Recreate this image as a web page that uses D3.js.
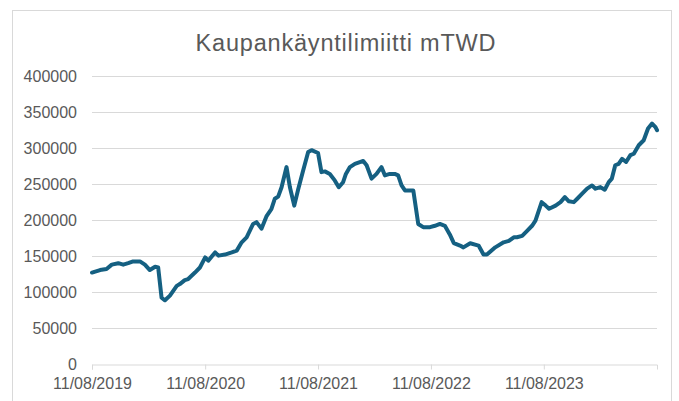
<!DOCTYPE html>
<html>
<head>
<meta charset="utf-8">
<script src="https://cdn.jsdelivr.net/npm/d3@7"></script>
<style>
  body { margin: 0; background: #fff; }
  text { font-family: "Liberation Sans", Arial, sans-serif; }
</style>
</head>
<body>
<div id="chart"></div>
<script>
// values
const dates = [
  "2019-08-11", "2019-09-06", "2019-09-27", "2019-10-14", "2019-11-04", "2019-11-20",
  "2019-12-06", "2019-12-22", "2020-01-13", "2020-01-29", "2020-02-14", "2020-03-02",
  "2020-03-12", "2020-03-23", "2020-04-03", "2020-04-19", "2020-05-11", "2020-05-21",
  "2020-06-06", "2020-06-17", "2020-07-09", "2020-07-25", "2020-08-11", "2020-08-21",
  "2020-09-12", "2020-09-23", "2020-10-14", "2020-11-05", "2020-11-21", "2020-12-07",
  "2020-12-23", "2021-01-13", "2021-01-24", "2021-02-09", "2021-02-25", "2021-03-13",
  "2021-03-24", "2021-04-04", "2021-04-15", "2021-05-01", "2021-05-12", "2021-05-26",
  "2021-06-08", "2021-06-24", "2021-07-10", "2021-07-21", "2021-08-11", "2021-08-22",
  "2021-09-02", "2021-09-18", "2021-10-04", "2021-10-17", "2021-10-31", "2021-11-09",
  "2021-11-22", "2021-12-08", "2021-12-24", "2022-01-04", "2022-01-15", "2022-01-31",
  "2022-02-16", "2022-03-04", "2022-03-15", "2022-03-31", "2022-04-16", "2022-04-27",
  "2022-05-08", "2022-05-19", "2022-06-15", "2022-07-01", "2022-07-17", "2022-08-08",
  "2022-08-24", "2022-09-09", "2022-09-25", "2022-10-11", "2022-10-24", "2022-11-13",
  "2022-11-24", "2022-12-16", "2023-01-12", "2023-01-28", "2023-02-08", "2023-03-07",
  "2023-04-03", "2023-04-20", "2023-05-06", "2023-05-16", "2023-06-02", "2023-06-18",
  "2023-07-04", "2023-07-15", "2023-08-04", "2023-08-17", "2023-08-28", "2023-09-18",
  "2023-10-04", "2023-10-18", "2023-10-31", "2023-11-16", "2023-11-27", "2023-12-13",
  "2023-12-29", "2024-01-14", "2024-01-25", "2024-02-10", "2024-02-24", "2024-03-08",
  "2024-03-18", "2024-03-29", "2024-04-09", "2024-04-20", "2024-05-03", "2024-05-17",
  "2024-05-28", "2024-06-13", "2024-06-29", "2024-07-13", "2024-07-26", "2024-08-06",
  "2024-08-11"
];
const limits = [
  127000, 130500, 132000, 138000, 140000, 138000,
  140000, 142500, 142500, 138000, 130500, 135000,
  134000, 92000, 88500, 95000, 108500, 111000,
  116500, 118000, 127000, 134000, 148000, 143500,
  155000, 150500, 152000, 155000, 157500, 169000,
  176000, 194500, 197000, 188000, 205000, 215000,
  229500, 232500, 245500, 273500, 245500, 220000,
  243000, 269000, 294500, 297000, 293000, 266500,
  267500, 264000, 255000, 245500, 252500, 264000,
  273500, 278000, 280500, 282000, 276000, 257500,
  264000, 273500, 262000, 264000, 264000, 262000,
  248000, 241000, 241000, 194500, 190000, 190000,
  192000, 194500, 192000, 180000, 168000, 164500,
  162000, 167700, 164500, 152000, 152000, 162000,
  169000, 171000, 176000, 176000, 178000, 185000,
  192000, 199000, 224800, 220000, 215600, 220000,
  224800, 231800, 226000, 224800, 229500, 236500,
  243500, 248000, 243500, 245700, 242000, 252700,
  257500, 276000, 278000, 285000, 280600, 290000,
  292000, 303800, 310800, 327000, 334000, 329000,
  324700
];
const xTickDates = ["2019-08-11", "2020-08-11", "2021-08-11", "2022-08-11", "2023-08-11"];
const yTicks = [0, 50000, 100000, 150000, 200000, 250000, 300000, 350000, 400000];
const title = "Kaupankäyntilimiitti mTWD";

const width = 679, height = 401;
const margin = { top: 76, right: 22, bottom: 37, left: 92 };
const parse = d3.timeParse("%Y-%m-%d");
const fmt = d3.timeFormat("%d/%m/%Y");

const data = dates.map((d, i) => ({ date: parse(d), value: limits[i] }));

const svg = d3.select("#chart").append("svg")
  .attr("width", width)
  .attr("height", height);

// chart frame
svg.append("rect")
  .attr("x", 12.5).attr("y", 10.5)
  .attr("width", 659).attr("height", 400)
  .attr("fill", "#fff")
  .attr("stroke", "#d9d9d9");

const x = d3.scaleTime()
  .domain([parse("2019-08-11"), parse("2024-08-11")])
  .range([margin.left, width - margin.right]);

const y = d3.scaleLinear()
  .domain([0, 400000])
  .range([height - margin.bottom, margin.top]);

// gridlines
svg.append("g")
  .selectAll("line")
  .data(yTicks.filter(d => d > 0))
  .join("line")
  .attr("x1", margin.left).attr("x2", width - margin.right)
  .attr("y1", d => Math.round(y(d)) + 0.5)
  .attr("y2", d => Math.round(y(d)) + 0.5)
  .attr("stroke", "#d9d9d9")
  .attr("stroke-width", 1);

// y labels
svg.append("g")
  .selectAll("text")
  .data(yTicks)
  .join("text")
  .attr("x", 77)
  .attr("y", d => y(d))
  .attr("dy", "0.35em")
  .attr("text-anchor", "end")
  .attr("font-size", 16)
  .attr("fill", "#595959")
  .text(d => d);

// x axis
const xAxis = d3.axisBottom(x)
  .tickValues(xTickDates.map(parse))
  .tickFormat(fmt)
  .tickSize(5)
  .tickPadding(8);

const gx = svg.append("g")
  .attr("transform", `translate(0,${Math.round(y(0)) + 0.5})`)
  .call(xAxis);
gx.select(".domain").attr("stroke", "#d9d9d9");
gx.selectAll(".tick line").attr("stroke", "#d9d9d9");
gx.selectAll(".tick text")
  .attr("font-size", 16)
  .attr("font-family", "Liberation Sans, Arial, sans-serif")
  .attr("fill", "#595959");

// series line
const line = d3.line()
  .x(d => x(d.date))
  .y(d => y(d.value));

svg.append("path")
  .datum(data)
  .attr("d", line)
  .attr("fill", "none")
  .attr("stroke", "#156082")
  .attr("stroke-width", 4)
  .attr("stroke-linejoin", "round")
  .attr("stroke-linecap", "round");

// title
svg.append("text")
  .attr("x", 346)
  .attr("y", 51)
  .attr("text-anchor", "middle")
  .attr("font-size", 23.5)
  .attr("letter-spacing", 0.8)
  .attr("fill", "#595959")
  .text(title);
</script>
</body>
</html>
